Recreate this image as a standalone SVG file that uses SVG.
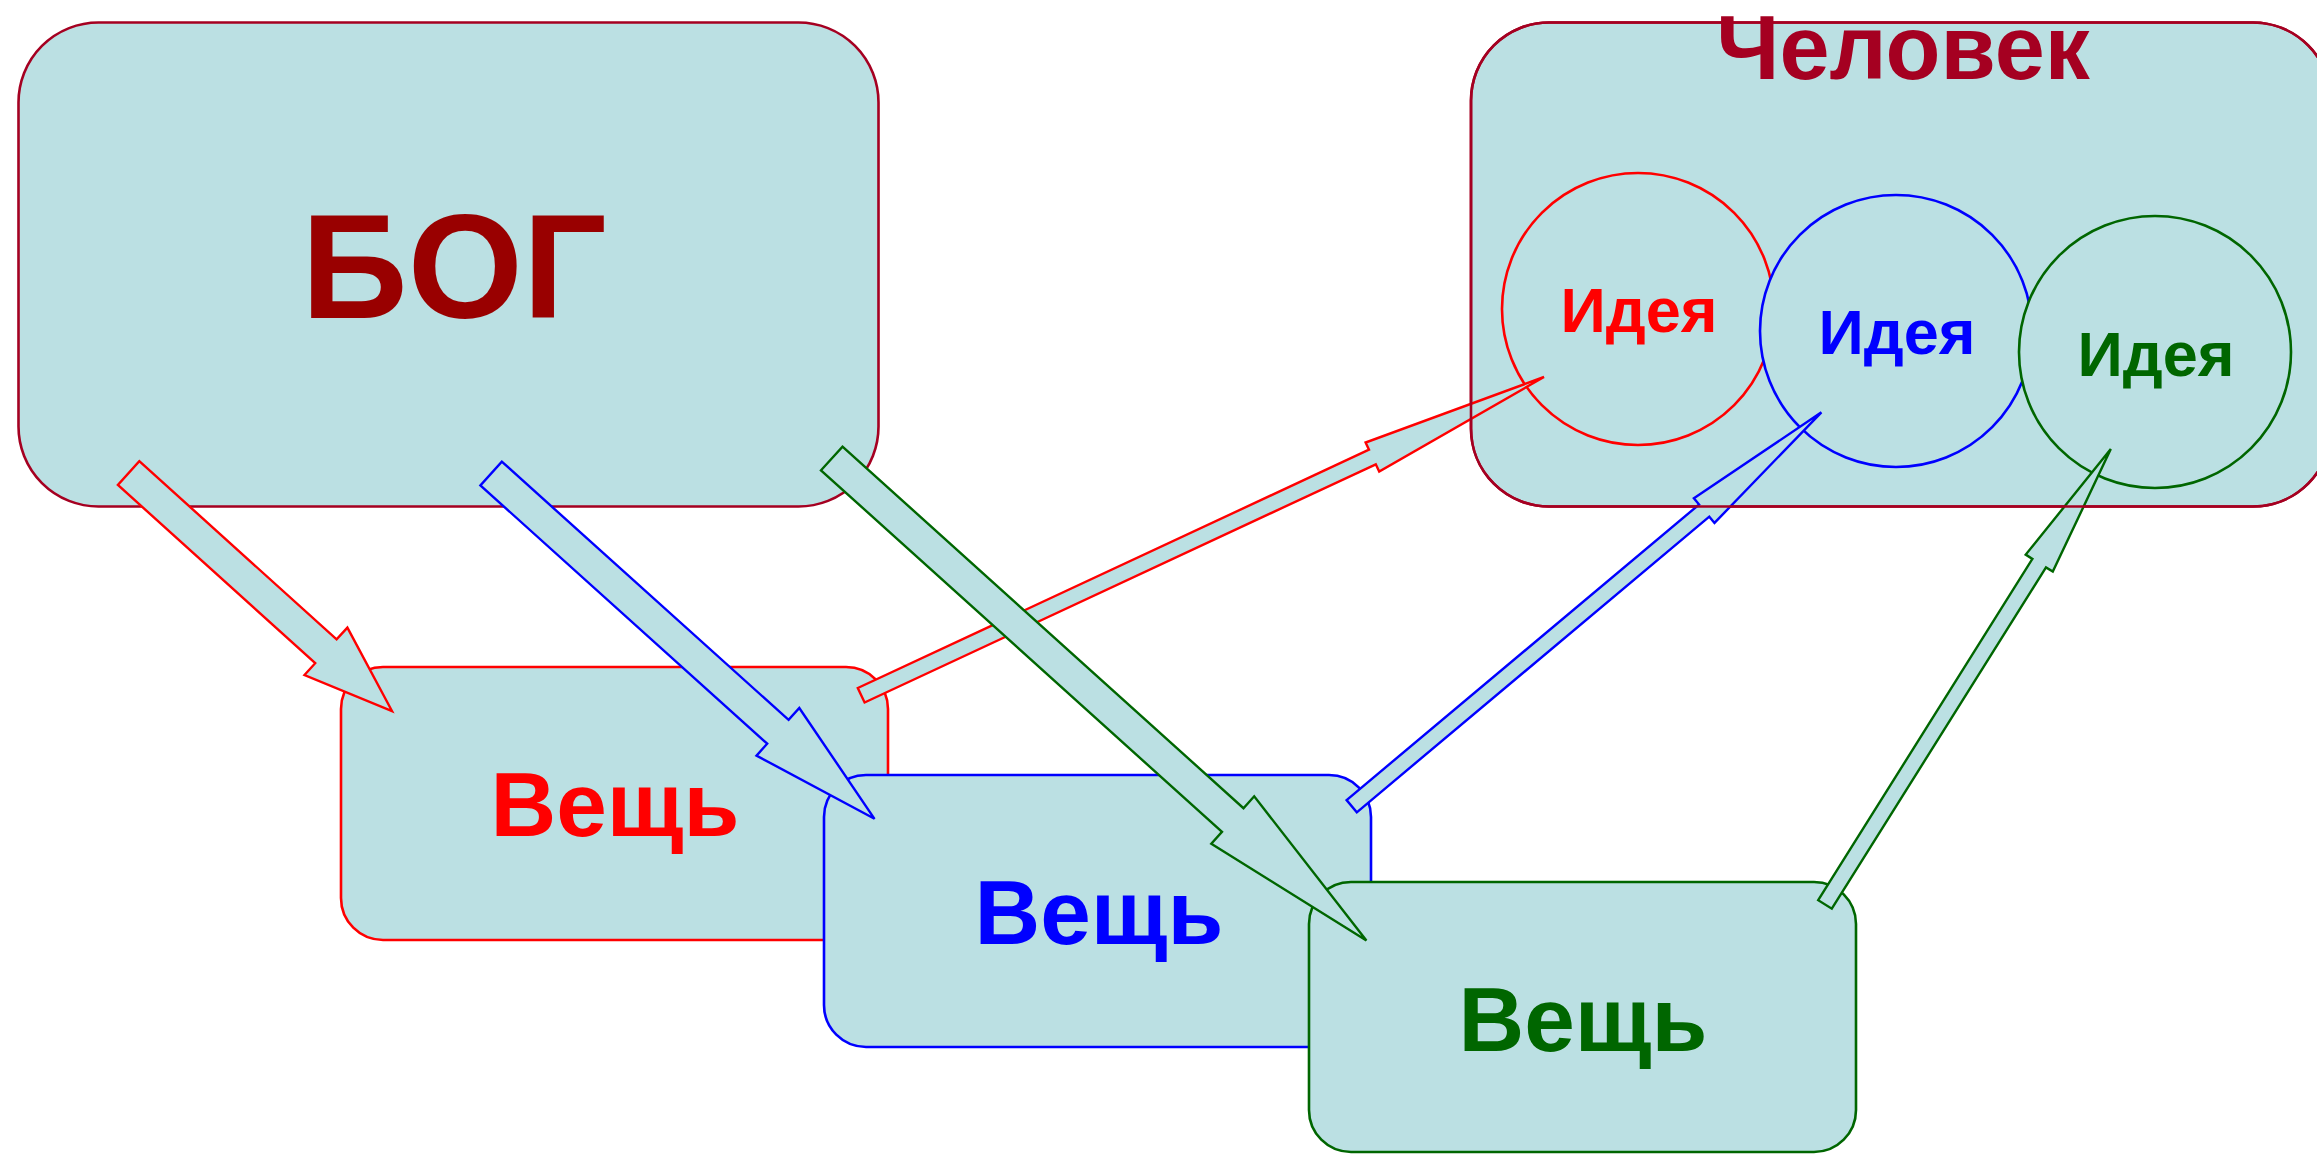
<svg xmlns="http://www.w3.org/2000/svg" width="2317" height="1154" viewBox="0 0 2317 1154">
<style>
.box{fill:#bbe0e3;stroke-width:2.6}
.crim{stroke:#a50021}
.arrow{fill:#bbe0e3;stroke-width:2.4;stroke-linejoin:miter}
.t{font-family:"Liberation Sans",Arial,sans-serif;font-weight:bold;text-anchor:middle}
</style>
<rect width="2317" height="1154" fill="#ffffff"/>
<g id="god">
<rect class="box crim" x="18.5" y="22.5" width="860" height="484" rx="80" ry="80"/>
<text class="t" x="454" y="318" font-size="148" fill="#990000">БОГ</text>
</g>
<g id="thing-red">
<rect class="box" stroke="#ff0000" x="341" y="667" width="547" height="273" rx="42" ry="42"/>
<text class="t" x="615" y="836" font-size="91" fill="#ff0000">Вещь</text>
</g>
<g id="thing-blue">
<rect class="box" stroke="#0000ff" x="824" y="775" width="547" height="272" rx="42" ry="42"/>
<text class="t" x="1099" y="944" font-size="91" fill="#0000ff">Вещь</text>
</g>
<g id="thing-green">
<rect class="box" stroke="#006600" x="1309" y="882" width="547" height="270" rx="42" ry="42"/>
<text class="t" x="1583" y="1051" font-size="91" fill="#006600">Вещь</text>
</g>
<g id="human">
<rect class="box crim" x="1471" y="22.5" width="860" height="484" rx="78" ry="78"/>
<text class="t" x="1903" y="79" font-size="90" fill="#a50021">Человек</text>
<g id="idea-red">
<circle class="box" stroke="#ff0000" cx="1638" cy="309" r="136"/>
<text class="t" x="1639" y="332" font-size="63" fill="#ff0000">Идея</text>
</g>
<g id="idea-blue">
<circle class="box" stroke="#0000ff" cx="1896" cy="331" r="136"/>
<text class="t" x="1897" y="354" font-size="63" fill="#0000ff">Идея</text>
</g>
<g id="idea-green">
<circle class="box" stroke="#006600" cx="2155" cy="352" r="136"/>
<text class="t" x="2156" y="376" font-size="63" fill="#006600">Идея</text>
</g>
</g>
<g id="connectors">
<polygon class="arrow" stroke="#ff0000" points="857.8,688 1369,449.7 1365.6,442.5 1544,377 1379.2,471.5 1375.8,464.3 864.6,702.5"/>
<polygon class="arrow" stroke="#0000ff" points="1346.6,800.1 1699.1,504.5 1693.9,498.3 1821.4,412.3 1714.5,522.9 1709.3,516.7 1356.8,812.3"/>
<polygon class="arrow" stroke="#006600" points="1818.2,900.2 2032.4,558.9 2025.7,554.6 2110.8,449.1 2052.8,571.6 2046,567.4 1831.8,908.7"/>
<rect x="1471" y="22.5" width="860" height="484" rx="78" ry="78" fill="none" stroke="#a50021" stroke-width="2.6"/>
<polygon class="arrow" stroke="#ff0000" points="139.3,461.1 336.6,639.4 347.4,627.6 392,711 304.5,675 315.2,663.2 117.9,484.9"/>
<polygon class="arrow" stroke="#0000ff" points="501.8,461.6 788.6,719.9 799.3,708 874.5,818.8 756.5,755.6 767.2,743.7 480.4,485.4"/>
<polygon class="arrow" stroke="#006600" points="842.5,446.6 1243.5,808.2 1254.2,796.3 1366.4,940.6 1211.3,843.8 1222,831.9 821,470.3"/>
</g>
</svg>
